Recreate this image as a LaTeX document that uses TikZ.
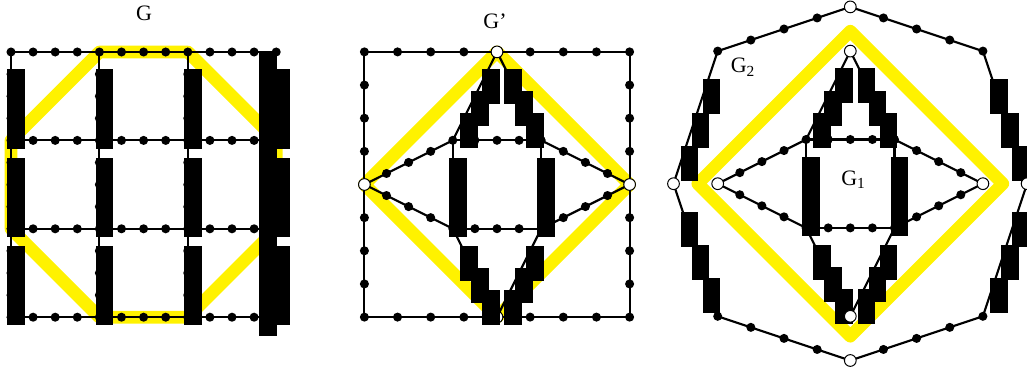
\documentclass[tikz,border=0pt]{standalone}
\usepackage{fontspec}
\setmainfont{Liberation Serif}
\usetikzlibrary{calc}
\newcommand\uu{22.1}
\tikzset{
  edge/.style={draw=black, line width=1.6pt},
  vdot/.style={circle, fill=black, inner sep=0pt, minimum size=6.8pt},
  vopen/.style={circle, draw=black, fill=white, line width=0.75pt, inner sep=0pt, minimum size=8.8pt},
  hl/.style={draw=yellow, line width=9.5pt, line join=round},
  lbl/.style={font=\fontsize{16.5}{18}\selectfont, inner sep=0pt},
  blk/.style={fill=black},
}
% line with n intervals and dots at the inner division points
\newcommand\dedge[3]{%
  \draw[edge] (#1) -- (#2);
  \pgfmathtruncatemacro\nnn{#3-1}%
  \foreach \k in {1,...,\nnn} {\node[vdot] (#1-#2-\k) at ($(#1)!\k/#3!(#2)$) {};}%
}
\newcommand\bline[2]{\draw[edge] (#1) -- (#2);}
% black blocks at the inner division points of an edge
\newcommand\bblk[3]{%
  \pgfmathtruncatemacro\nnn{#3-1}%
  \foreach \k in {1,...,\nnn} {\fill[blk] ($(#1)!\k/#3!(#2)+(-3.8,-4.8)$) rectangle ++(17.5,35);}%
}
% graph G1 around a centre
\newcommand\gonecoords[3]{%
  \coordinate (#1T) at (#2,{#3-6*\uu});
  \coordinate (#1B) at (#2,{#3+6*\uu});
  \coordinate (#1L) at ({#2-6*\uu},#3);
  \coordinate (#1R) at ({#2+6*\uu},#3);
  \coordinate (#1a) at ({#2-2*\uu},{#3-2*\uu});
  \coordinate (#1b) at ({#2+2*\uu},{#3-2*\uu});
  \coordinate (#1c) at ({#2-2*\uu},{#3+2*\uu});
  \coordinate (#1d) at ({#2+2*\uu},{#3+2*\uu});
}
\newcommand\gonelines[1]{%
  \dedge{#1L}{#1a}{4}\dedge{#1a}{#1b}{4}\dedge{#1b}{#1R}{4}%
  \dedge{#1L}{#1c}{4}\dedge{#1c}{#1d}{4}\dedge{#1d}{#1R}{4}%
  \bline{#1a}{#1c}\bline{#1b}{#1d}%
  \bline{#1T}{#1a}\bline{#1T}{#1b}\bline{#1B}{#1c}\bline{#1B}{#1d}%
  \node[vdot] (#1a-v) at (#1a) {};
  \node[vdot] (#1b-v) at (#1b) {};
  \node[vdot] (#1c-v) at (#1c) {};
  \node[vdot] (#1d-v) at (#1d) {};
}
\newcommand\goneblk[1]{%
  \bblk{#1a}{#1c}{4}\bblk{#1b}{#1d}{4}%
  \bblk{#1T}{#1a}{4}\bblk{#1T}{#1b}{4}\bblk{#1B}{#1c}{4}\bblk{#1B}{#1d}{4}%
}
\begin{document}
\begin{tikzpicture}[x=0.75pt,y=-0.75pt]
\useasboundingbox (0,0) rectangle (1027,371);

% ---------------- Panel 1: G ----------------
\foreach \i in {0,...,3} {\foreach \j in {0,...,3} {%
  \coordinate (p\i\j) at ({143.6+(4*\i-6)*\uu},{184.6+(4*\j-6)*\uu});}}
\draw[hl] (p10) -- (p20) -- (p31) -- (p32) -- (p23) -- (p13) -- (p02) -- (p01) -- cycle;
\foreach \j in {0,...,3} {%
  \dedge{p0\j}{p3\j}{12}
  \node[vdot] (pl\j) at (p0\j) {};
  \node[vdot] (pr\j) at (p3\j) {};
}
\foreach \i in {0,...,3} {\foreach \j/\jj in {0/1,1/2,2/3} {%
  \dedge{p\i\j}{p\i\jj}{4}
  \bblk{p\i\j}{p\i\jj}{4}
}}
\fill[blk] (259,52) rectangle (277,336);
\node[lbl, anchor=base] (tG) at (144,20) {G};

% ---------------- Panel 2: G' ----------------
\gonecoords{q}{497}{184.5}
\coordinate (qS1) at ({497-6*\uu},{184.5-6*\uu});
\coordinate (qS2) at ({497+6*\uu},{184.5-6*\uu});
\coordinate (qS3) at ({497+6*\uu},{184.5+6*\uu});
\coordinate (qS4) at ({497-6*\uu},{184.5+6*\uu});
\draw[hl] (qT) -- (qR) -- (qB) -- (qL) -- cycle;
\dedge{qS1}{qS2}{8}\dedge{qS2}{qS3}{8}\dedge{qS3}{qS4}{8}\dedge{qS4}{qS1}{8}
\node[vdot] (qS1v) at (qS1) {};
\node[vdot] (qS2v) at (qS2) {};
\node[vdot] (qS3v) at (qS3) {};
\node[vdot] (qS4v) at (qS4) {};
\gonelines{q}
\node[vopen] (qTo) at (qT) {};
\node[vopen] (qLo) at (qL) {};
\node[vopen] (qRo) at (qR) {};
\node[vopen] (qBo) at (qB) {};
\goneblk{q}
\node[lbl, anchor=base] (tGp) at (495,28.5) {G’};

% ---------------- Panel 3: G1 inside G2 ----------------
\gonecoords{r}{850.3}{183.7}
\coordinate (oT) at (850.3,{183.7-8*\uu});
\coordinate (oB) at (850.3,{183.7+8*\uu});
\coordinate (oL) at ({850.3-8*\uu},183.7);
\coordinate (oR) at ({850.3+8*\uu},183.7);
\coordinate (oUL) at ({850.3-6*\uu},{183.7-6*\uu});
\coordinate (oUR) at ({850.3+6*\uu},{183.7-6*\uu});
\coordinate (oLL) at ({850.3-6*\uu},{183.7+6*\uu});
\coordinate (oLR) at ({850.3+6*\uu},{183.7+6*\uu});
\coordinate (yT) at (850.3,31.2);
\coordinate (yR) at (1002.8,183.7);
\coordinate (yB) at (850.3,336.2);
\coordinate (yL) at (697.8,183.7);
\draw[hl] (yT) -- (yR) -- (yB) -- (yL) -- cycle;
\dedge{oT}{oUL}{4}\bline{oUL}{oL}\bline{oL}{oLL}\dedge{oLL}{oB}{4}
\dedge{oB}{oLR}{4}\bline{oLR}{oR}\bline{oR}{oUR}\dedge{oUR}{oT}{4}
\node[vdot] (oULv) at (oUL) {};
\node[vdot] (oURv) at (oUR) {};
\node[vdot] (oLLv) at (oLL) {};
\node[vdot] (oLRv) at (oLR) {};
\bblk{oUL}{oL}{4}\bblk{oL}{oLL}{4}\bblk{oLR}{oR}{4}\bblk{oR}{oUR}{4}
\gonelines{r}
\goneblk{r}
\node[vopen] (rTo) at (rT) {};
\node[vopen] (rLo) at (rL) {};
\node[vopen] (rRo) at (rR) {};
\node[vopen] (rBo) at (rB) {};
\node[vopen] (oTo) at (oT) {};
\node[vopen] (oLo) at (oL) {};
\node[vopen] (oRo) at (oR) {};
\node[vopen] (oBo) at (oB) {};
\node[lbl, anchor=base west] (tG2) at (730.5,72.7) {G\textsubscript{2}};
\node[lbl, anchor=base west] (tG1) at (841,185) {G\textsubscript{1}};
\end{tikzpicture}
\end{document}
